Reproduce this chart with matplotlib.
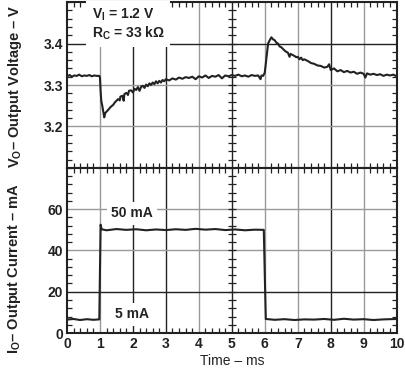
import numpy as np
import matplotlib.pyplot as plt
from matplotlib.ticker import MultipleLocator

plt.rcParams['font.family'] = ['Liberation Sans', 'DejaVu Sans']
plt.rcParams['font.weight'] = 'bold'
plt.rcParams['mathtext.fontset'] = 'custom'
plt.rcParams['mathtext.rm'] = 'Liberation Sans:bold'
plt.rcParams['mathtext.bf'] = 'Liberation Sans:bold'

# output voltage trace (time in ms, volts)
v_time = [0.00, 0.08, 0.15, 0.22, 0.30, 0.37, 0.45, 0.52, 0.60, 0.68, 0.75, 0.83, 0.90, 0.98,
          1.00, 1.02, 1.04, 1.07, 1.10, 1.13, 1.16, 1.20, 1.25, 1.30, 1.35, 1.40, 1.45, 1.50,
          1.55, 1.60, 1.62, 1.68, 1.72, 1.74, 1.80, 1.85, 1.88, 1.95, 2.00, 2.05, 2.10, 2.15,
          2.20, 2.25, 2.30, 2.35, 2.40, 2.45, 2.50, 2.55, 2.60, 2.65, 2.70, 2.75, 2.80, 2.85,
          2.90, 2.95, 3.00, 3.10, 3.20, 3.30, 3.40, 3.50, 3.60, 3.70, 3.80, 3.90, 4.00, 4.10,
          4.20, 4.30, 4.40, 4.50, 4.60, 4.70, 4.80, 4.90, 5.00, 5.10, 5.20, 5.30, 5.40, 5.50,
          5.60, 5.70, 5.80, 5.87, 5.90, 5.95, 6.00, 6.05, 6.10, 6.15, 6.20, 6.25, 6.30, 6.35,
          6.40, 6.45, 6.50, 6.55, 6.60, 6.65, 6.70, 6.75, 6.78, 6.85, 6.90, 6.95, 7.00, 7.05,
          7.10, 7.15, 7.20, 7.30, 7.40, 7.50, 7.60, 7.70, 7.80, 7.90, 7.95, 8.00, 8.10, 8.20,
          8.30, 8.40, 8.50, 8.60, 8.70, 8.80, 8.90, 9.00, 9.05, 9.10, 9.20, 9.30, 9.40, 9.50,
          9.60, 9.70, 9.80, 9.90, 10.00]
v_out = [3.321, 3.324, 3.320, 3.323, 3.322, 3.325, 3.321, 3.323, 3.322, 3.324, 3.321, 3.323, 3.322, 3.322,
         3.318, 3.285, 3.262, 3.250, 3.236, 3.222, 3.232, 3.236, 3.240, 3.245, 3.249, 3.252, 3.258, 3.262,
         3.266, 3.263, 3.272, 3.274, 3.262, 3.278, 3.281, 3.276, 3.286, 3.287, 3.282, 3.291, 3.288, 3.295,
         3.286, 3.296, 3.298, 3.293, 3.301, 3.297, 3.304, 3.300, 3.306, 3.302, 3.309, 3.304, 3.310, 3.306,
         3.312, 3.309, 3.314, 3.311, 3.316, 3.313, 3.318, 3.315, 3.319, 3.317, 3.320, 3.314, 3.321, 3.318,
         3.323, 3.317, 3.322, 3.320, 3.324, 3.316, 3.323, 3.321, 3.324, 3.322, 3.325, 3.321, 3.323, 3.320,
         3.324, 3.322, 3.323, 3.314, 3.323, 3.322, 3.330, 3.365, 3.400, 3.408, 3.415, 3.410, 3.408, 3.402,
         3.400, 3.393, 3.391, 3.387, 3.383, 3.380, 3.378, 3.368, 3.375, 3.372, 3.370, 3.367, 3.368, 3.362,
         3.366, 3.360, 3.362, 3.358, 3.353, 3.351, 3.347, 3.346, 3.342, 3.344, 3.350, 3.336, 3.340, 3.333,
         3.336, 3.331, 3.334, 3.330, 3.332, 3.327, 3.330, 3.327, 3.318, 3.328, 3.325, 3.327, 3.324, 3.326,
         3.322, 3.325, 3.323, 3.325, 3.321]

# output current trace (time in ms, mA)
i_time = [0.0, 0.2, 0.4, 0.6, 0.8, 0.98, 1.0, 1.02, 1.05, 1.2, 1.5, 1.8, 2.1, 2.4, 2.7, 3.0,
          3.3, 3.6, 3.9, 4.2, 4.5, 4.8, 5.1, 5.4, 5.7, 5.97, 6.0, 6.03, 6.3, 6.6, 6.9, 7.2,
          7.5, 7.8, 8.1, 8.4, 8.7, 9.0, 9.3, 9.6, 10.0]
i_out = [6.5, 6.8, 6.3, 6.7, 6.4, 6.6, 30.0, 52.5, 50.3, 49.8, 50.4, 50.0, 50.3, 49.8, 50.2, 49.9,
         50.3, 50.0, 50.5, 50.1, 50.4, 49.9, 50.2, 49.8, 50.1, 50.0, 28.0, 6.8, 6.4, 6.7, 6.3, 6.6,
         6.5, 6.8, 6.4, 6.9, 6.5, 6.7, 6.3, 6.6, 6.8]

x_ticks = [0, 1, 2, 3, 4, 5, 6, 7, 8, 9, 10]
v_ticks = [3.2, 3.3, 3.4]
i_ticks = [0, 20, 40, 60]

DARK = '#222222'
GRAY = '#999999'
FS = 10

fig = plt.figure(figsize=(4.06, 3.68), dpi=100)
ax1 = fig.add_axes([0.165, 0.5435, 0.812, 0.451])
ax2 = fig.add_axes([0.165, 0.0951, 0.812, 0.4484])

x_grid_col = {1: GRAY, 2: DARK, 3: DARK, 4: GRAY, 6: GRAY, 7: GRAY, 8: DARK, 9: GRAY}

def style(ax, ylim, yminor, ygrid):
    ax.set_xlim(0, 10)
    ax.set_ylim(*ylim)
    for x, c in x_grid_col.items():
        ax.axvline(x, color=c, lw=1.0, zorder=1)
    for y, c in ygrid:
        ax.axhline(y, color=c, lw=1.0, zorder=1)
    # center crosshair with small ticks
    ax.axvline(5, color=DARK, lw=1.0, zorder=1)
    ys = np.arange(ylim[0], ylim[1] + 1e-9, yminor)
    ax.plot([5] * len(ys), ys, ls='none', marker='_', ms=6, mew=0.9, color=DARK, zorder=1)
    ax.xaxis.set_minor_locator(MultipleLocator(0.2))
    ax.yaxis.set_minor_locator(MultipleLocator(yminor))
    ax.tick_params(which='minor', direction='in', length=3.5, width=0.9,
                   top=True, right=True, color=DARK)
    ax.tick_params(which='major', length=0, labelsize=FS, labelcolor=DARK, pad=3)
    for s in ax.spines.values():
        s.set_linewidth(1.5)
        s.set_color(DARK)

style(ax1, (3.1, 3.5), 0.02, [(3.4, DARK), (3.3, GRAY), (3.2, GRAY)])
ax1.set_yticks(v_ticks)
ax1.set_yticklabels(['3.2', '3.3', '3.4'])
ax1.set_xticks(x_ticks)
ax1.tick_params(labelbottom=False)
ax1.plot(v_time, v_out, color=DARK, lw=1.5, zorder=3)
ax1.text(0.75, 3.447, r'V$_\mathbf{I}$ = 1.2 V' + '\n' + r'R$_\mathbf{C}$ = 33 k$\Omega$',
         fontsize=FS, color=DARK, va='center', ha='left', linespacing=1.1, zorder=4,
         bbox=dict(facecolor='white', edgecolor='none', pad=4))

style(ax2, (0, 80), 4, [(60, GRAY), (40, GRAY), (20, DARK)])
ax2.set_yticks(i_ticks)
ax2.set_xticks(x_ticks)
ax2.plot(i_time, i_out, color=DARK, lw=1.5, zorder=3)
ax2.text(1.35, 58, '50 mA', fontsize=FS, color=DARK, va='center', ha='left', zorder=4,
         bbox=dict(facecolor='white', edgecolor='none', pad=3))
ax2.text(1.45, 9, '5 mA', fontsize=FS, color=DARK, va='center', ha='left', zorder=4,
         bbox=dict(facecolor='white', edgecolor='none', pad=3))
ax2.set_xlabel('Time – ms', fontsize=FS, color=DARK, labelpad=2)

fig.text(15 / 406, 1 - 86 / 368, r'V$_\mathbf{O}$– Output Voltage – V', rotation=90,
         fontsize=10.5, color=DARK, ha='center', va='center')
fig.text(15 / 406, 1 - 268 / 368, r'I$_\mathbf{O}$– Output Current – mA', rotation=90,
         fontsize=10.5, color=DARK, ha='center', va='center')

fig.savefig('out.png', dpi=100)
